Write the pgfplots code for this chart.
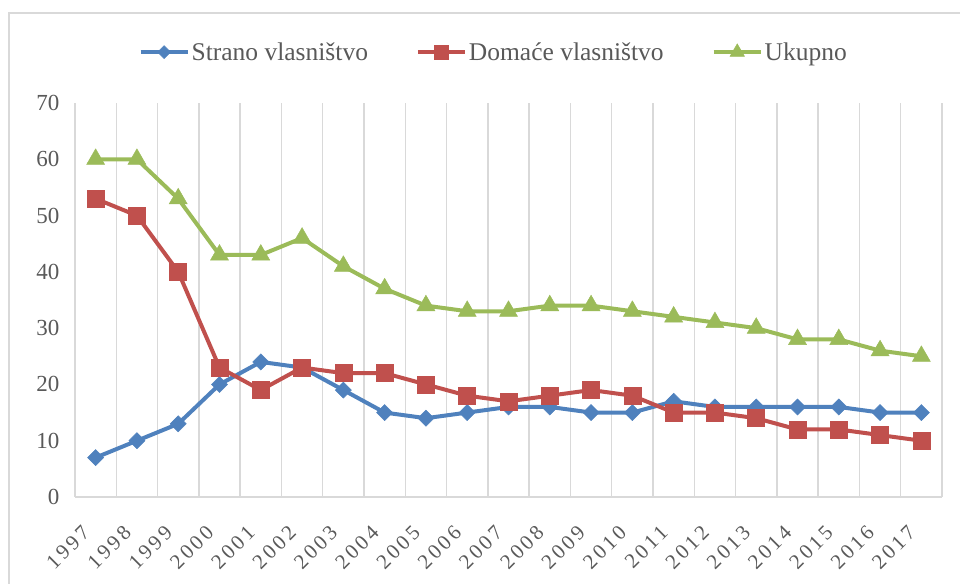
\documentclass[border=0pt]{standalone}
\usepackage{fontspec}
\setmainfont{Liberation Serif}
\newfontfamily\yearfont[LetterSpace=15]{Liberation Serif}
\usepackage{pgfplots}
\usepackage{pgfplotstable}
\pgfplotsset{compat=1.18}

\definecolor{cblue}{HTML}{4F81BD}
\definecolor{cred}{HTML}{C0504D}
\definecolor{cgreen}{HTML}{9BBB59}
\definecolor{cgrid}{HTML}{D9D9D9}
\definecolor{ctext}{HTML}{595959}

\pgfplotstableread{
x strano domace ukupno
0  7  53 60
1  10 50 60
2  13 40 53
3  20 23 43
4  24 19 43
5  23 23 46
6  19 22 41
7  15 22 37
8  14 20 34
9  15 18 33
10 16 17 33
11 16 18 34
12 15 19 34
13 15 18 33
14 17 15 32
15 16 15 31
16 16 14 30
17 16 12 28
18 16 12 28
19 15 11 26
20 15 10 25
}\datatable

\begin{document}
\begin{tikzpicture}
\useasboundingbox (0,0) rectangle (960pt,583pt);
\clip (0,0) rectangle (960pt,583pt);
\draw[cgrid, line width=2pt] (9pt,-10pt) rectangle (980pt,570pt);
\begin{axis}[
    at={(75pt,86pt)}, anchor=south west,
    scale only axis, width=867pt, height=394pt,
    xmin=-0.5, xmax=20.5, ymin=0, ymax=70,
    xtick={0,...,20},
    xticklabels={1997,1998,1999,2000,2001,2002,2003,2004,2005,2006,2007,2008,2009,2010,2011,2012,2013,2014,2015,2016,2017},
    ytick={0,10,...,70},
    /pgf/number format/assume math mode=true,
    minor xtick={-0.5,0.5,...,20.5},
    xminorgrids,
    minor grid style={draw=cgrid, line width=1.5pt},
    major tick length=0pt, minor tick length=0pt,
    axis x line*=bottom, axis y line*=left,
    x axis line style={draw=cgrid, line width=1.5pt},
    y axis line style={draw=none},
    tick label style={text=ctext},
    yticklabel style={font=\fontsize{23}{23}\selectfont, xshift=-12pt},
    xticklabel style={font=\yearfont\fontsize{21}{21}\selectfont, rotate=45, anchor=east, xshift=-26pt, yshift=-16pt},
    legend style={at={(0.483,1.129)}, anchor=center, legend columns=3, draw=none, fill=none,
        font=\fontsize{25.5}{25.5}\selectfont, text=ctext,
        /tikz/every even column/.append style={column sep=46pt}},
    legend image code/.code={
        \draw[#1, mark=none] (0pt,0pt) -- (47pt,0pt);
        \path[#1, every mark/.append style={scale=0.8}] plot coordinates {(23.5pt,0pt)};
    },
    clip=false,
]
\addplot[cblue, line width=4pt, mark=square*, mark size=5.7pt,
    mark options={solid, rotate=45, fill=cblue, draw=cblue, line width=0.5pt}]
    table[x=x, y=strano] {\datatable};
\addlegendentry{Strano vlasništvo}
\addplot[cred, line width=4pt, mark=square*, mark size=8.5pt,
    mark options={solid, fill=cred, draw=cred, line width=0.5pt}]
    table[x=x, y=domace] {\datatable};
\addlegendentry{Domaće vlasništvo}
\addplot[cgreen, line width=4pt, mark=triangle*, mark size=10.4pt,
    mark options={solid, fill=cgreen, draw=cgreen, line width=0.5pt}]
    table[x=x, y=ukupno] {\datatable};
\addlegendentry{Ukupno}
\end{axis}
\end{tikzpicture}
\end{document}
